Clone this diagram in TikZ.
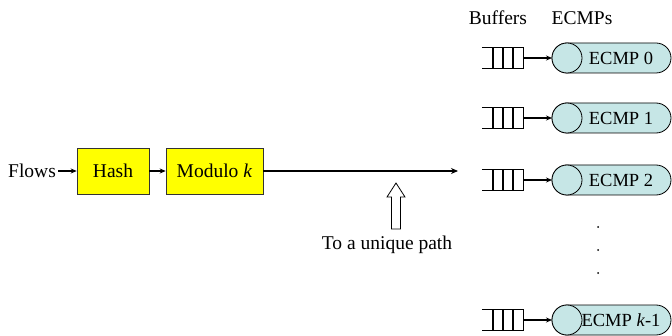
\documentclass[tikz,border=0pt]{standalone}
\usepackage{fontspec}
\setmainfont{Liberation Serif}
\usetikzlibrary{arrows.meta}
\definecolor{cylfill}{RGB}{198,230,230}
\definecolor{boxyellow}{RGB}{255,255,0}
\tikzset{
  txt/.style={inner sep=0pt, font=\fontsize{19.5}{22}\selectfont},
  ybox/.style={draw=black!80, line width=0.6pt, fill=boxyellow, minimum height=46pt, inner sep=0pt, font=\fontsize{19.5}{22}\selectfont},
  conn/.style={line width=1.2pt, -{Stealth[length=6pt,width=5pt]}},
  bigconn/.style={line width=1.9pt, -{Stealth[length=7pt,width=6pt]}},
  bufline/.style={line width=1.3pt},
  cyl/.style={draw=black, line width=0.8pt, fill=cylfill},
  elab/.style={inner sep=0pt, font=\fontsize{18.5}{20}\selectfont},
  pt/.style={circle, fill=black, inner sep=0pt, minimum size=2pt}
}
\begin{document}
\begin{tikzpicture}[x=1pt,y=1pt]
\useasboundingbox (0,0) rectangle (672,335);
% left chain
\node[txt] (flows) at (32,164) {Flows};
\node[ybox, minimum width=72pt] (hash) at (113,164) {Hash};
\node[ybox, minimum width=97pt] (mod) at (214.5,164) {Modulo \textit{k}};
\coordinate (fend) at (458,164);
\draw[conn] (flows.east) ++(2,0) coordinate (fst) (fst) -- (hash.west);
\draw[conn] (hash.east) -- (mod.west);
\draw[bigconn] (mod.east) -- (fend);
% hollow arrow
\draw[line width=0.8pt, fill=white] (391.5,106) -- (391.5,138) -- (387,138) -- (396,152) -- (405,138) -- (400.5,138) -- (400.5,106) -- cycle;
\node[txt] (uniq) at (387,90) {To a unique path};
% headers
\node[txt] (hbuf) at (498,317) {Buffers};
\node[txt] (hecmp) at (582,317) {ECMPs};
% rows
\foreach \y/\lab/\n in {277/{ECMP 0}/0, 217/{ECMP 1}/1, 155/{ECMP 2}/2, 15/{ECMP \textit{k}-1}/3}{
  \node[minimum width=41pt, minimum height=21pt, inner sep=0pt] (buf\n) at (502.5,\y) {};
  \draw[bufline] (buf\n.north west) -- (buf\n.north east) -- (buf\n.south east) -- (buf\n.south west);
  \draw[bufline] (493,\y+10.5) -- (493,\y-10.5) (503,\y+10.5) -- (503,\y-10.5) (513,\y+10.5) -- (513,\y-10.5);
  \draw[cyl] (567,\y+15) -- (656,\y+15) arc[start angle=90, end angle=-90, radius=15] -- (567,\y-15) arc[start angle=270, end angle=90, radius=15] -- cycle;
  \draw[cyl] (567,\y) circle[radius=15];
  \coordinate (cyl\n) at (552,\y);
  \node[elab] (ecmp\n) at (621,\y) {\lab};
  \draw[conn] (buf\n.east) -- (cyl\n);
}
% dots
\node[pt] (d1) at (598,108) {};
\node[pt] (d2) at (598,85) {};
\node[pt] (d3) at (598,62) {};
\end{tikzpicture}
\end{document}
